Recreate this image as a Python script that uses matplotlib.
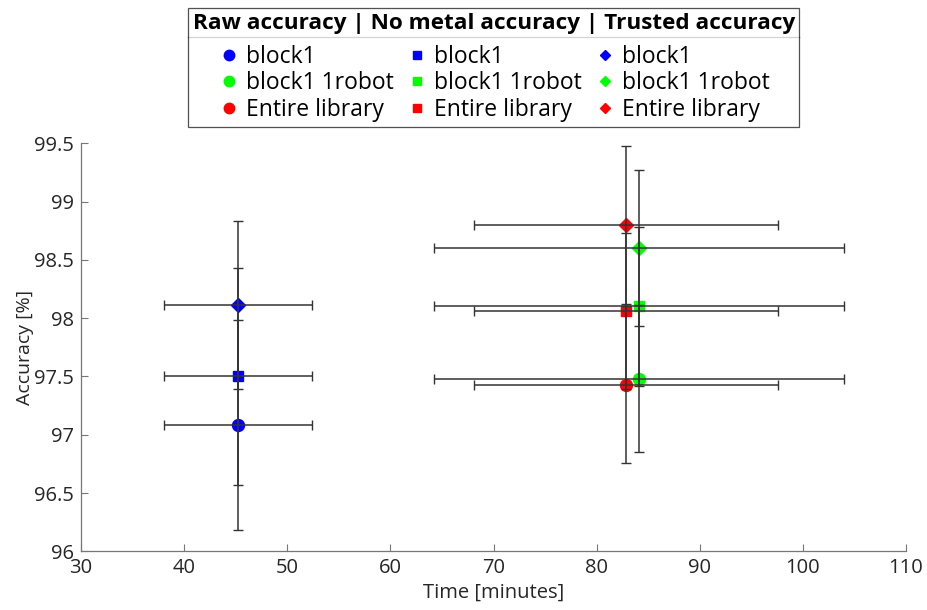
import matplotlib
matplotlib.use("Agg")
import matplotlib.pyplot as plt
from matplotlib.lines import Line2D

plt.rcParams['font.family'] = ['Open Sans', 'DejaVu Sans']

categories = ["block1", "block1 1robot", "Entire library"]
colors = ["#0000ff", "#00ff00", "#ff0000"]

time_mean = [45.2, 84.1, 82.85]
time_err = [7.2, 19.9, 14.7]

raw_acc = [97.08, 97.48, 97.43]
raw_err = [0.90, 0.63, 0.67]
nometal_acc = [97.50, 98.10, 98.06]
nometal_err = [0.93, 0.68, 0.67]
trusted_acc = [98.11, 98.60, 98.80]
trusted_err = [0.72, 0.67, 0.68]

xticks = [30, 40, 50, 60, 70, 80, 90, 100, 110]
yticks = [96, 96.5, 97, 97.5, 98, 98.5, 99, 99.5]
ytick_labels = ["96", "96.5", "97", "97.5", "98", "98.5", "99", "99.5"]

fig = plt.figure(figsize=(9.28, 6.10), dpi=100)
ax = fig.add_axes([0.0873, 0.0962, 0.889, 0.669])

series = [
    (raw_acc, raw_err, "o", 8.6, 7.5),
    (nometal_acc, nometal_err, "s", 7.2, 6.0),
    (trusted_acc, trusted_err, "D", 7.0, 5.2),
]

handles = []
for acc, err, marker, ms, leg_ms in series:
    for i, cat in enumerate(categories):
        ax.plot([time_mean[i]], [acc[i]], linestyle="none", marker=marker,
                ms=ms, color=colors[i], zorder=2)
        ax.errorbar([time_mean[i]], [acc[i]], xerr=[time_err[i]], yerr=[err[i]],
                    fmt="none", ecolor="#333333", elinewidth=1.1, capsize=3.5,
                    capthick=1.0, zorder=3)
        handles.append(Line2D([], [], linestyle="none", marker=marker,
                              ms=leg_ms, color=colors[i], label=cat))

ax.set_xlim(30, 110)
ax.set_ylim(96, 99.5)
ax.set_xticks(xticks)
ax.set_yticks(yticks)
ax.set_yticklabels(ytick_labels)
ax.tick_params(direction="in", length=5, width=0.8, color="#777777",
               labelsize=14.5, labelcolor="#262626", pad=5)
for side in ["top", "right"]:
    ax.spines[side].set_visible(False)
for side in ["left", "bottom"]:
    ax.spines[side].set_color("#777777")
    ax.spines[side].set_linewidth(0.9)

ax.set_xlabel("Time [minutes]", fontsize=14.5, color="#262626", labelpad=3)
ax.set_ylabel("Accuracy [%]", fontsize=14, color="#262626", labelpad=0)

leg = fig.legend(handles=handles, ncol=3, loc="upper center",
                 bbox_to_anchor=(0.532, 0.987),
                 title="Raw accuracy | No metal accuracy | Trusted accuracy",
                 title_fontproperties={"weight": "bold", "size": 16.2},
                 fontsize=16.5, frameon=True, fancybox=False, edgecolor="#262626",
                 borderpad=0.2, handletextpad=0.25, columnspacing=0.52,
                 labelspacing=0.12, handlelength=1.0, borderaxespad=0)
leg.get_title().set_fontweight("bold")
leg.get_frame().set_linewidth(0.9)
# extra room between the title and the entries
leg._legend_box.sep = 8

# rule under the legend title
fig.canvas.draw()
renderer = fig.canvas.get_renderer()
frame_bb = leg.get_frame().get_window_extent(renderer)
title_bb = leg.get_title().get_window_extent(renderer)
inv = fig.transFigure.inverted()
(x0, y0) = inv.transform((frame_bb.x0, title_bb.y0 - 3))
(x1, _) = inv.transform((frame_bb.x1, title_bb.y0 - 3))
fig.add_artist(Line2D([x0, x1], [y0, y0], transform=fig.transFigure,
                      color="#262626", linewidth=0.9))

fig.savefig("out.png", dpi=100)
